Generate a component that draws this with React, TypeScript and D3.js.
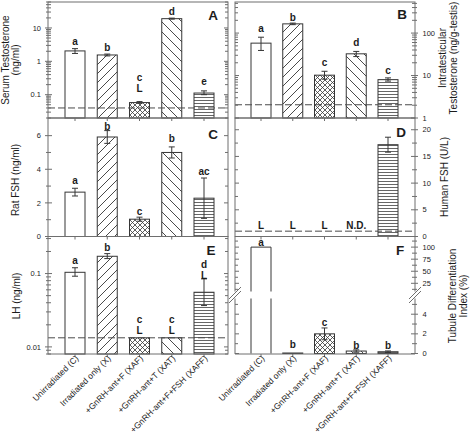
import React from "react";
import * as d3 from "d3";

const categories = [
  "Unirradiated (C)",
  "Irradiated only (X)",
  "+GnRH-ant+F (XAF)",
  "+GnRH-ant+T (XAT)",
  "+GnRH-ant+F+FSH (XAFF)",
];

// A: serum testosterone (ng/ml), log
const serumT = [2.05, 1.55, 0.058, 19.0, 0.112];
const serumTLo = [0.33, 0.1, 0.003, 0.6, 0.012];
const serumTHi = [0.35, 0.1, 0.004, 0.7, 0.018];
const serumTSig = [["a"], ["b"], ["c", "L"], ["d"], ["e"]];
const serumTLimit = 0.04;
const serumTTicks = [0.1, 1, 10];

// B: intratesticular testosterone (ng/g-testis), log
const intraT = [58, 165, 10.2, 32.5, 8.0];
const intraTLo = [19, 7, 2.0, 4.5, 0.6];
const intraTHi = [22, 7, 2.4, 4.5, 0.8];
const intraTSig = [["a"], ["b"], ["c"], ["d"], ["c"]];
const intraTLimit = 2.05;
const intraTTicks = [1, 10, 100];

// C: rat FSH (ng/ml)
const ratFSH = [2.64, 5.92, 1.03, 5.0, 2.28];
const ratFSHErr = [0.23, 0.38, 0.12, 0.33, 1.2];
const ratFSHSig = [["a"], ["b"], ["c"], ["b"], ["ac"]];
const ratFSHTicks = [0, 2, 4, 6];
const ratFSHMinor = [1, 3, 5];

// D: human FSH (U/L)
const humanFSH: (number | null)[] = [null, null, null, null, 17.2];
const humanFSHErr = [0, 0, 0, 0, 1.4];
const humanFSHSig = [["L"], ["L"], ["L"], ["N.D."], []];
const humanFSHLimit = 1.0;
const humanFSHTicks = [0, 5, 10, 15, 20];
const humanFSHMinor = [2.5, 7.5, 12.5, 17.5];

// E: LH (ng/ml), log
const lh = [0.104, 0.172, 0.0133, 0.0133, 0.0556];
const lhLo = [0.012, 0.012, 0, 0, 0.019];
const lhHi = [0.016, 0.015, 0, 0, 0.029];
const lhSig = [["a"], ["b"], ["c", "L"], ["c", "L"], ["d", "L"]];
const lhLimit = 0.0133;
const lhTicks = [0.01, 0.1];

// F: tubule differentiation index (%), broken axis
const tdi = [100, 0.05, 2.0, 0.25, 0.18];
const tdiErr = [0, 0, 0.6, 0.12, 0.08];
const tdiSig = [["a"], ["b"], ["c"], ["b"], ["b"]];
const tdiTicksLow = [0, 2, 4];
const tdiMinorLow = [1, 3, 5];
const tdiTicksHigh = [25, 50, 75, 100];
const tdiMinorHigh = [12.5, 37.5, 62.5, 87.5, 112.5];

const FONT = "'Liberation Sans', Arial, Helvetica, sans-serif";
const FRAME = "#6e6e6e";
const INK = "#363636";
const TXT = "#1c1c1c";
const BW = 20;
const fills = ["#ffffff", "url(#pFwd)", "url(#pCross)", "url(#pBack)", "url(#pHoriz)"];

type TickItem = { y: number; major: boolean; label?: string };

function logItems(scale: any, majors: number[]): TickItem[] {
  return scale.ticks().map((t: number) => {
    const lg = Math.log10(t);
    const major = Math.abs(lg - Math.round(lg)) < 1e-6;
    const lab = majors.find((m) => Math.abs(m - t) / m < 1e-6);
    return { y: scale(t), major, label: lab != null ? String(lab) : undefined };
  });
}

function linItems(scale: any, majors: number[], minors: number[]): TickItem[] {
  return [
    ...majors.map((m) => ({ y: scale(m), major: true, label: String(m) })),
    ...minors.map((m) => ({ y: scale(m), major: false })),
  ];
}

function Ticks({ x, items, side, showLabels = true }: { x: number; items: TickItem[]; side: string; showLabels?: boolean }) {
  return (
    <g>
      {items.map((t, i) => {
        const m = t.major;
        let x1 = x, x2 = x;
        if (side === "lo") { x1 = x - (m ? 3 : 2); x2 = x + (m ? 4 : 3); }
        else if (side === "ri") { x1 = x - (m ? 4 : 3); x2 = x; }
        else if (side === "ro") { x1 = x - (m ? 4 : 3); x2 = x + (m ? 3 : 2); }
        else { x1 = x; x2 = x + (m ? 4 : 3); }
        return (
          <g key={i}>
            <line x1={x1} x2={x2} y1={t.y} y2={t.y} stroke={FRAME} strokeWidth={1} />
            {showLabels && t.label != null && side === "lo" && (
              <text x={x - 7} y={t.y} dy="0.35em" textAnchor="end" fontSize={7.5} fill={TXT}>{t.label}</text>
            )}
            {showLabels && t.label != null && side === "ro" && (
              <text x={x + 7.5} y={t.y} dy="0.35em" textAnchor="start" fontSize={7.5} fill={TXT}>{t.label}</text>
            )}
          </g>
        );
      })}
    </g>
  );
}

function Bars({ x, y, base, vals }: any) {
  return (
    <g>
      {vals.map((v: number | null, i: number) =>
        v == null ? null : (
          <rect key={i} x={x(categories[i]) - BW / 2} y={y(v)} width={BW} height={base - y(v)}
            fill={fills[i]} stroke={INK} strokeWidth={1} />
        )
      )}
    </g>
  );
}

function ErrBars({ x, y, vals, lo, hi }: any) {
  return (
    <g stroke={INK} strokeWidth={1}>
      {vals.map((v: number | null, i: number) => {
        if (v == null) return null;
        const l = lo[i], h = hi[i];
        if (!l && !h) return null;
        const cx = x(categories[i]);
        const t = y(v + h), b = y(v - l);
        return (
          <g key={i}>
            <line x1={cx} x2={cx} y1={t} y2={b} />
            <line x1={cx - 3} x2={cx + 3} y1={t} y2={t} />
            <line x1={cx - 3} x2={cx + 3} y1={b} y2={b} />
          </g>
        );
      })}
    </g>
  );
}

function Sig({ x, y, anchors, sig, gaps }: any) {
  return (
    <g>
      {sig.map((lines: string[], i: number) =>
        lines.map((s, j) => (
          <text key={i + "-" + j} x={x(categories[i])}
            y={y(anchors[i]) - gaps[i] - (lines.length - 1 - j) * 11}
            textAnchor="middle" fontWeight="bold" fontSize={10} fill={TXT}>{s}</text>
        ))
      )}
    </g>
  );
}

function Limit({ x0, x1, y }: any) {
  return <line x1={x0} x2={x1} y1={y} y2={y} stroke="#4a4a4a" strokeWidth={1} strokeDasharray="7,3" />;
}

function VTitle({ x, y, lines, spacing = 10.5 }: any) {
  return (
    <text transform={`translate(${x},${y}) rotate(-90)`} textAnchor="middle" fontSize={10} fill={TXT}>
      {lines.map((l: string, i: number) => (
        <tspan key={i} x={0} y={i * spacing}>{l}</tspan>
      ))}
    </text>
  );
}

export default function App() {
  const L0 = 48, L1 = 228, R0 = 235, R1 = 415;
  const r0 = 2, r1 = 118, r2 = 236.5, r3 = 354;

  const xL = d3.scalePoint<string>().domain(categories).range([75, 204]);
  const xR = d3.scalePoint<string>().domain(categories).range([261, 388]);

  const yA = d3.scaleLog().domain([0.02, 60]).range([r1, r0]);
  const yB = d3.scaleLog().domain([1, 540]).range([r1, r0]);
  const yC = d3.scaleLinear().domain([0, 7.05]).range([r2, r1]);
  const yD = d3.scaleLinear().domain([0, 22.2]).range([r2, r1]);
  const yE = d3.scaleLog().domain([0.008, 0.32]).range([r3, r2]);
  const yFlo = d3.scaleLinear().domain([0, 5.6]).range([353.5, 298.5]);
  const yFhi = d3.scaleLinear().domain([8, 122]).range([291.5, r2]);
  const loMax = 5.6;
  const yF = (v: number) => (v <= loMax ? yFlo(v) : yFhi(v));

  const itA = logItems(yA, serumTTicks);
  const itB = logItems(yB, intraTTicks);
  const itC = linItems(yC, ratFSHTicks, ratFSHMinor);
  const itD = linItems(yD, humanFSHTicks, humanFSHMinor);
  const itE = logItems(yE, lhTicks);
  const itF = [
    ...linItems(yFlo, tdiTicksLow, tdiMinorLow),
    ...linItems(yFhi, tdiTicksHigh, tdiMinorHigh),
  ];

  const add = (a: (number | null)[], b: number[]) => a.map((v, i) => (v == null ? null : v + b[i]));

  const gapsA = [3.5, 3.5, 10, 3.5, 6];
  const gapsB = [5, 2.5, 5, 5, 4.3];
  const gapsC = [4, 1, 2.3, 5, 3.3];
  const gapsD = [2.4, 2.4, 2.4, 2.4, 2.4];
  const gapsE = [4, 3, 3.5, 3.5, -0.5];
  const gapsF = [1.5, 5, 2.3, 1, 2];

  const fBreakTop = 291.5, fBreakBot = 298.5;
  const breakMark = (x: number, k: string) => (
    <g key={k} stroke={FRAME} strokeWidth={1}>
      <line x1={x - 6} y1={299} x2={x + 6} y2={287} />
      <line x1={x - 6} y1={303} x2={x + 6} y2={291} />
    </g>
  );

  const xTickMarks = (x: any, ys: number[], k: string) =>
    categories.map((c, i) =>
      ys.map((yy, j) => (
        <line key={k + i + "-" + j} x1={x(c)} x2={x(c)} y1={yy} y2={yy + 3} stroke={FRAME} strokeWidth={1} />
      ))
    );

  // F bar a spans the break
  const fa = tdi[0];
  const faX = xR(categories[0])! - BW / 2;

  return (
    <svg width={470} height={437} viewBox="0 0 470 437"
      style={{ position: "absolute", left: 0, top: 0, background: "#fff" }} fontFamily={FONT}>
      <defs>
        <pattern id="pFwd" patternUnits="userSpaceOnUse" width={9} height={9}>
          <path d="M0,9 L9,0 M-1,1 L1,-1 M8,10 L10,8" stroke={INK} strokeWidth={0.9} />
        </pattern>
        <pattern id="pBack" patternUnits="userSpaceOnUse" width={10} height={10}>
          <path d="M0,0 L10,10 M-1,9 L1,11 M9,-1 L11,1" stroke={INK} strokeWidth={0.9} />
        </pattern>
        <pattern id="pCross" patternUnits="userSpaceOnUse" width={5} height={5}>
          <path d="M0,0 L5,5 M5,0 L0,5" stroke={INK} strokeWidth={0.8} />
        </pattern>
        <pattern id="pHoriz" patternUnits="userSpaceOnUse" width={4} height={3}>
          <path d="M0,1.5 L4,1.5" stroke="#555" strokeWidth={0.9} />
        </pattern>
      </defs>
      <rect x={0} y={0} width={470} height={437} fill="#fff" />

      {/* Panel A */}
      <Bars x={xL} y={yA} base={r1} vals={serumT} />
      <ErrBars x={xL} y={yA} vals={serumT} lo={serumTLo} hi={serumTHi} />
      <Limit x0={L0} x1={L1} y={yA(serumTLimit)} />
      <Sig x={xL} y={yA} anchors={add(serumT, serumTHi)} sig={serumTSig} gaps={gapsA} />

      {/* Panel B */}
      <Bars x={xR} y={yB} base={r1} vals={intraT} />
      <ErrBars x={xR} y={yB} vals={intraT} lo={intraTLo} hi={intraTHi} />
      <Limit x0={R0} x1={R1} y={yB(intraTLimit)} />
      <Sig x={xR} y={yB} anchors={add(intraT, intraTHi)} sig={intraTSig} gaps={gapsB} />

      {/* Panel C */}
      <Bars x={xL} y={yC} base={r2} vals={ratFSH} />
      <ErrBars x={xL} y={yC} vals={ratFSH} lo={ratFSHErr} hi={ratFSHErr} />
      <Sig x={xL} y={yC} anchors={add(ratFSH, ratFSHErr)} sig={ratFSHSig} gaps={gapsC} />

      {/* Panel D */}
      <Bars x={xR} y={yD} base={r2} vals={humanFSH} />
      <ErrBars x={xR} y={yD} vals={humanFSH} lo={humanFSHErr} hi={humanFSHErr} />
      <Limit x0={R0} x1={R1} y={yD(humanFSHLimit)} />
      <Sig x={xR} y={yD} anchors={humanFSH.map((v, i) => (v == null ? humanFSHLimit : v + humanFSHErr[i]))}
        sig={humanFSHSig} gaps={gapsD} />

      {/* Panel E */}
      <Bars x={xL} y={yE} base={r3} vals={lh} />
      <ErrBars x={xL} y={yE} vals={lh} lo={lhLo} hi={lhHi} />
      <Limit x0={L0} x1={L1} y={yE(lhLimit)} />
      <Sig x={xL} y={yE} anchors={add(lh, lhHi)} sig={lhSig} gaps={gapsE} />

      {/* Panel F */}
      <rect x={faX} y={yF(fa)} width={BW} height={fBreakTop - yF(fa)} fill="#fff" />
      <path d={`M${faX},${fBreakTop} V${yF(fa)} H${faX + BW} V${fBreakTop}`} fill="none" stroke={INK} />
      <path d={`M${faX},${fBreakBot} V${yFlo(0)} M${faX + BW},${fBreakBot} V${yFlo(0)}`} fill="none" stroke={INK} />
      <Bars x={xR} y={yF} base={yFlo(0)} vals={tdi.map((v, i) => (i === 0 ? null : v))} />
      <ErrBars x={xR} y={yF} vals={tdi} lo={tdiErr} hi={tdiErr} />
      <Sig x={xR} y={yF} anchors={add(tdi, tdiErr)} sig={tdiSig} gaps={gapsF} />

      {/* Frames */}
      <g fill="none" stroke={FRAME} strokeWidth={1}>
        <rect x={L0} y={r0} width={L1 - L0} height={r1 - r0} />
        <rect x={L0} y={r1} width={L1 - L0} height={r2 - r1} />
        <rect x={L0} y={r2} width={L1 - L0} height={r3 - r2} />
        <rect x={R0} y={r0} width={R1 - R0} height={r1 - r0} />
        <rect x={R0} y={r1} width={R1 - R0} height={r2 - r1} />
        <path d={`M${R0},${fBreakTop} V${r2} H${R1} V${fBreakTop} M${R0},${fBreakBot} V${r3} H${R1} V${fBreakBot}`} />
      </g>
      {breakMark(R0, "bl")}
      {breakMark(R1, "br")}

      {/* Axes ticks */}
      <Ticks x={L0} items={itA} side="lo" />
      <Ticks x={L1} items={itA} side="ri" />
      <Ticks x={L0} items={itC} side="lo" />
      <Ticks x={L1} items={itC} side="ri" />
      <Ticks x={L0} items={itE} side="lo" />
      <Ticks x={L1} items={itE} side="ri" />
      <Ticks x={R1} items={itB} side="ro" />
      <Ticks x={R0} items={itB} side="li" />
      <Ticks x={R1} items={itD} side="ro" />
      <Ticks x={R0} items={itD} side="li" />
      <Ticks x={R1} items={itF} side="ro" />
      <Ticks x={R0} items={itF} side="li" />

      {xTickMarks(xL, [r1, r2, r3], "tl")}
      {xTickMarks(xR, [r1, r2, r3], "tr")}

      {/* Panel letters */}
      <g fontWeight="bold" fontSize={13.5} fill={TXT} textAnchor="middle">
        <text x={213} y={20}>A</text>
        <text x={402} y={19}>B</text>
        <text x={213} y={139}>C</text>
        <text x={401} y={137}>D</text>
        <text x={211} y={255}>E</text>
        <text x={400} y={255}>F</text>
      </g>

      {/* Axis titles */}
      <VTitle x={8.7} y={60} lines={["Serum Testosterone", "(ng/ml)"]} />
      <VTitle x={19} y={180} lines={["Rat FSH (ng/ml)"]} />
      <VTitle x={19.5} y={296} lines={["LH (ng/ml)"]} />
      <VTitle x={446} y={58} lines={["Intratesticular", "Testosterone (ng/g-testis)"]} spacing={11} />
      <VTitle x={448} y={177} lines={["Human FSH (U/L)"]} />
      <VTitle x={456} y={296} lines={["Tubule Differentiation", "Index (%)"]} spacing={11} />

      {/* Category labels */}
      <g fontSize={8.5} fill={TXT}>
        {categories.map((c, i) => (
          <text key={"xl" + i} transform={`translate(${xL(c)! + 4},${359}) rotate(-45)`} textAnchor="end">{c}</text>
        ))}
        {categories.map((c, i) => (
          <text key={"xr" + i} transform={`translate(${xR(c)! + 4},${359}) rotate(-45)`} textAnchor="end">{c}</text>
        ))}
      </g>
    </svg>
  );
}
